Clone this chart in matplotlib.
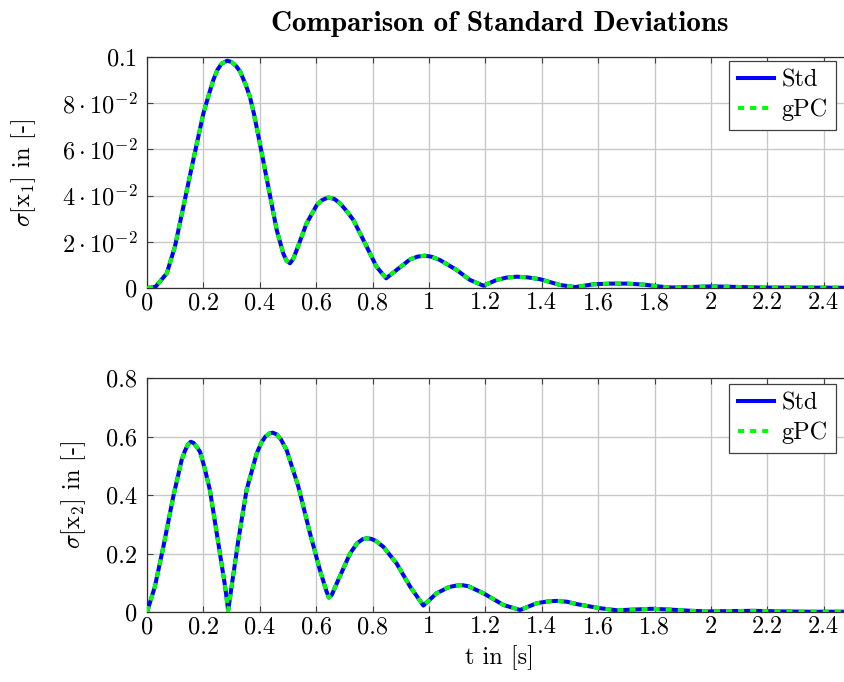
import matplotlib
matplotlib.use('Agg')
import matplotlib.pyplot as plt
import matplotlib as mpl

mpl.rcParams['font.family'] = 'cmr10'
mpl.rcParams['mathtext.fontset'] = 'cm'
mpl.rcParams['axes.formatter.use_mathtext'] = True
mpl.rcParams['axes.unicode_minus'] = False

t_x1 = [0.0, 0.03, 0.07, 0.099, 0.129, 0.164, 0.2, 0.22, 0.235, 0.25, 0.265, 0.285,
        0.3, 0.315, 0.33, 0.35, 0.365, 0.38, 0.398, 0.43, 0.46, 0.483, 0.495, 0.507,
        0.518, 0.531, 0.566, 0.602, 0.62, 0.643, 0.665, 0.684, 0.71, 0.732, 0.779,
        0.814, 0.848, 0.885, 0.933, 0.96, 0.986, 1.01, 1.039, 1.098, 1.145, 1.193,
        1.24, 1.275, 1.311, 1.35, 1.394, 1.465, 1.518, 1.583, 1.642, 1.7, 1.76, 1.82,
        1.86, 1.92, 2.0, 2.08, 2.18, 2.3, 2.5]
s_x1 = [0.0, 0.0005, 0.0063, 0.0179, 0.0352, 0.0554, 0.0756, 0.084, 0.090, 0.0945,
        0.0972, 0.0984, 0.0978, 0.0962, 0.0938, 0.088, 0.0828, 0.075, 0.064, 0.0439,
        0.0251, 0.015, 0.0118, 0.0107, 0.0125, 0.0165, 0.028, 0.0359, 0.0380, 0.0392,
        0.0385, 0.0367, 0.033, 0.0294, 0.0179, 0.0092, 0.0042, 0.0078, 0.0124, 0.0136,
        0.0140, 0.0135, 0.0121, 0.0078, 0.0035, 0.0010, 0.0035, 0.0045, 0.0049, 0.0046,
        0.0038, 0.0013, 0.0004, 0.0016, 0.0019, 0.0019, 0.0015, 0.0006, 0.0002, 0.0004,
        0.0007, 0.0005, 0.0002, 0.0002, 0.0001]

t_x2 = [0.0, 0.028, 0.058, 0.093, 0.123, 0.135, 0.145, 0.155, 0.165, 0.175, 0.188,
        0.205, 0.223, 0.253, 0.277, 0.288, 0.3, 0.324, 0.353, 0.389, 0.405, 0.42, 0.435,
        0.446, 0.46, 0.475, 0.495, 0.537, 0.578, 0.613, 0.635, 0.645, 0.655, 0.678,
        0.72, 0.745, 0.765, 0.779, 0.795, 0.81, 0.838, 0.885, 0.933, 0.98, 1.027,
        1.07, 1.095, 1.116, 1.14, 1.193, 1.264, 1.323, 1.382, 1.42, 1.453, 1.49, 1.524,
        1.606, 1.666, 1.72, 1.79, 1.86, 1.93, 1.99, 2.06, 2.15, 2.25, 2.35, 2.5]
s_x2 = [0.0, 0.087, 0.223, 0.394, 0.520, 0.552, 0.572, 0.582, 0.578, 0.566, 0.548,
        0.49, 0.417, 0.235, 0.087, 0.005, 0.087, 0.246, 0.417, 0.542, 0.578, 0.600,
        0.611, 0.613, 0.607, 0.590, 0.554, 0.428, 0.269, 0.144, 0.075, 0.049, 0.058,
        0.109, 0.200, 0.235, 0.249, 0.252, 0.250, 0.244, 0.223, 0.166, 0.087, 0.022,
        0.064, 0.085, 0.090, 0.092, 0.088, 0.064, 0.024, 0.007, 0.030, 0.036, 0.038,
        0.035, 0.027, 0.013, 0.006, 0.008, 0.011, 0.008, 0.004, 0.002, 0.003, 0.004,
        0.002, 0.001, 0.001]

x_ticks = [0, 0.2, 0.4, 0.6, 0.8, 1.0, 1.2, 1.4, 1.6, 1.8, 2.0, 2.2, 2.4]
x_labels = ['0', '0.2', '0.4', '0.6', '0.8', '1', '1.2', '1.4', '1.6', '1.8', '2', '2.2', '2.4']
y1_ticks = [0, 0.02, 0.04, 0.06, 0.08, 0.1]
y1_labels = ['$0$', r'$2\cdot10^{-2}$', r'$4\cdot10^{-2}$', r'$6\cdot10^{-2}$',
             r'$8\cdot10^{-2}$', '$0.1$']
y2_ticks = [0, 0.2, 0.4, 0.6, 0.8]
y2_labels = ['0', '0.2', '0.4', '0.6', '0.8']

FS = 17.5
W, H = 845, 682

fig = plt.figure(figsize=(W / 100, H / 100), dpi=100)
ax1 = fig.add_axes([147 / W, 1 - 288 / H, 705 / W, 231 / H])
ax2 = fig.add_axes([147 / W, 1 - 612 / H, 705 / W, 234 / H])

panels = [
    (ax1, t_x1, s_x1, y1_ticks, y1_labels, 0.1, r'$\sigma[\mathrm{x}_1]$ in [-]', -0.155, 61),
    (ax2, t_x2, s_x2, y2_ticks, y2_labels, 0.8, r'$\sigma[\mathrm{x}_2]$ in [-]', -0.084, 384),
]

for ax, t, s, yt, yl, ymax, ylab, lx, leg_top in panels:
    ax.plot(t, s, color='#0000ff', linewidth=2.9, label='Std', zorder=3,
            solid_joinstyle='round')
    ax.plot(t, s, color='#00ff00', linewidth=2.9, linestyle=(0, (1.5, 1.5)),
            label='gPC', zorder=4, dash_joinstyle='round')
    ax.set_xlim(0, 2.5)
    ax.set_ylim(0, ymax)
    ax.set_xticks(x_ticks)
    ax.set_xticklabels(x_labels)
    ax.set_yticks(yt)
    ax.set_yticklabels(yl)
    ax.grid(True, color='#c8c8c8', linewidth=1.0)
    ax.set_axisbelow(True)
    ax.tick_params(direction='in', length=4, width=0.8, color='#404040',
                   top=True, right=True, labelsize=FS, pad=3)
    ax.tick_params(axis='y', pad=7)
    for sp in ax.spines.values():
        sp.set_color('#303030')
        sp.set_linewidth(0.9)
    ax.set_ylabel(ylab, fontsize=FS)
    ax.yaxis.set_label_coords(lx, 0.5)
    leg = ax.legend(loc='upper right', fontsize=FS, fancybox=False,
                    edgecolor='#404040', framealpha=1, handlelength=1.5,
                    handletextpad=0.3, borderpad=0.35, labelspacing=0.3,
                    borderaxespad=0, bbox_to_anchor=(836 / W, 1 - leg_top / H),
                    bbox_transform=fig.transFigure)
    leg.get_frame().set_linewidth(0.9)

ax1.set_title('Comparison of Standard Deviations', fontsize=21, fontfamily='cmb10', pad=19)
ax2.set_xlabel('t in [s]', fontsize=FS)
ax2.xaxis.set_label_coords(0.5, -0.14)

fig.savefig('out.png', dpi=100)
